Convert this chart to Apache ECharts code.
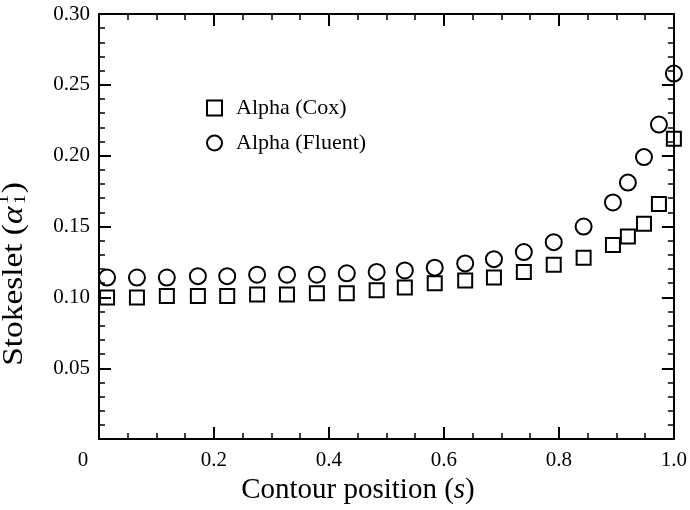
<!DOCTYPE html>
<html>
<head>
<meta charset="utf-8">
<script src="https://cdn.jsdelivr.net/npm/echarts@6/dist/echarts.min.js"></script>
<style>html,body{margin:0;padding:0;background:#fff;}#chart{width:690px;height:510px;}</style>
</head>
<body>
<div id="chart"></div>
<script>
// Contour positions (s)
const xValues = [0.014, 0.066, 0.118, 0.172, 0.223, 0.275, 0.327, 0.379, 0.431, 0.483, 0.532, 0.584, 0.637, 0.687, 0.739, 0.791, 0.843, 0.894, 0.920, 0.948, 0.974, 1.0];
// Alpha (Cox)
const coxValues = [0.100, 0.100, 0.101, 0.101, 0.101, 0.102, 0.102, 0.103, 0.103, 0.105, 0.107, 0.110, 0.112, 0.114, 0.118, 0.123, 0.128, 0.137, 0.143, 0.152, 0.166, 0.212];
// Alpha (Fluent)
const fluentValues = [0.114, 0.114, 0.114, 0.115, 0.115, 0.116, 0.116, 0.116, 0.117, 0.118, 0.119, 0.121, 0.124, 0.127, 0.132, 0.139, 0.150, 0.167, 0.181, 0.199, 0.222, 0.258];
const seriesNames = ['Alpha (Cox)', 'Alpha (Fluent)'];
const xTitleParts = ['Contour position (', 's', ')'];
const yTitleParts = ['Stokeslet (', 'α', '1', '1', ')'];

const FONT = '"Liberation Serif", "Times New Roman", serif';
const chart = echarts.init(document.getElementById('chart'), null, {renderer: 'canvas'});

const pairs = (xs, ys) => xs.map((x, i) => [x, ys[i]]);

// Build the y-axis title (rotated) with stacked super/subscript
function yTitleGraphic() {
  const ctx = document.createElement('canvas').getContext('2d');
  const big = 29, small = 17;
  ctx.font = big + 'px ' + FONT; const w0 = ctx.measureText(yTitleParts[0]).width;
  ctx.font = 'italic ' + big + 'px ' + FONT; const w1 = ctx.measureText(yTitleParts[1]).width;
  ctx.font = small + 'px ' + FONT; const w2 = ctx.measureText(yTitleParts[2]).width;
  ctx.font = big + 'px ' + FONT; const w4 = ctx.measureText(yTitleParts[4]).width;
  const total = w0 + w1 + 2 + w2 + 1 + w4;
  let x = -total / 2;
  const base = {fill: '#000', fontFamily: FONT, verticalAlign: 'middle', align: 'left'};
  const children = [];
  children.push({type: 'text', style: Object.assign({}, base, {text: yTitleParts[0], x: x, y: 0, fontSize: big})});
  x += w0;
  children.push({type: 'text', style: Object.assign({}, base, {text: yTitleParts[1], x: x, y: 0, fontSize: big, fontStyle: 'italic'})});
  x += w1 + 2;
  children.push({type: 'text', style: Object.assign({}, base, {text: yTitleParts[2], x: x, y: -10, fontSize: small})});
  children.push({type: 'text', style: Object.assign({}, base, {text: yTitleParts[3], x: x, y: 7, fontSize: small})});
  x += w2 + 1;
  children.push({type: 'text', style: Object.assign({}, base, {text: yTitleParts[4], x: x, y: 0, fontSize: big})});
  return {type: 'group', x: 14, y: 274, rotation: Math.PI / 2, scaleX: 1.15, scaleY: 1, children: children};
}

const axisCommon = {
  type: 'value',
  axisLine: {show: true, onZero: false, lineStyle: {color: '#000', width: 2}},
  axisTick: {show: true, inside: true, length: 12, lineStyle: {color: '#000', width: 2}},
  minorTick: {show: true, length: 6, lineStyle: {color: '#000', width: 1.5}},
  splitLine: {show: false},
  minorSplitLine: {show: false}
};

const option = {
  backgroundColor: '#fff',
  animation: false,
  grid: {left: 99, right: 16, top: 14, bottom: 63, containLabel: false},
  legend: {
    orient: 'vertical',
    left: 201,
    top: 91,
    itemWidth: 15,
    itemHeight: 15,
    itemGap: 11,
    textStyle: {fontFamily: FONT, fontSize: 22, color: '#000', lineHeight: 24, padding: [0, 0, 0, 9]},
    itemStyle: {color: 'rgba(0,0,0,0)', borderColor: '#000', borderWidth: 2},
    data: [
      {name: seriesNames[0], icon: 'rect'},
      {name: seriesNames[1], icon: 'circle'}
    ]
  },
  xAxis: [
    Object.assign({}, axisCommon, {
      position: 'bottom', min: 0, max: 1, interval: 0.2,
      minorTick: Object.assign({}, axisCommon.minorTick, {splitNumber: 4}),
      axisLabel: {
        show: true, margin: 11, color: '#000', fontFamily: FONT, fontSize: 21,
        formatter: v => v === 0 ? '{z|0}' : v.toFixed(1),
        rich: {z: {fontFamily: FONT, fontSize: 21, color: '#000', padding: [0, 32, 0, 0]}}
      },
      name: '{n|' + xTitleParts[0] + '}{i|' + xTitleParts[1] + '}{n|' + xTitleParts[2] + '}',
      nameLocation: 'middle',
      nameGap: 32,
      nameTextStyle: {
        fontFamily: FONT, fontSize: 29, color: '#000', padding: [0, 57, 0, 0],
        rich: {
          n: {fontFamily: FONT, fontSize: 29, color: '#000'},
          i: {fontFamily: FONT, fontSize: 29, color: '#000', fontStyle: 'italic'}
        }
      }
    }),
    Object.assign({}, axisCommon, {
      position: 'top', min: 0, max: 1, interval: 0.2,
      minorTick: Object.assign({}, axisCommon.minorTick, {splitNumber: 4}),
      axisLabel: {show: false}
    })
  ],
  yAxis: [
    Object.assign({}, axisCommon, {
      position: 'left', min: 0, max: 0.3, interval: 0.05,
      minorTick: Object.assign({}, axisCommon.minorTick, {splitNumber: 5}),
      axisLabel: {
        show: true, margin: 9, color: '#000', fontFamily: FONT, fontSize: 21,
        formatter: v => v === 0 ? '' : v.toFixed(2)
      }
    }),
    Object.assign({}, axisCommon, {
      position: 'right', min: 0, max: 0.3, interval: 0.05,
      minorTick: Object.assign({}, axisCommon.minorTick, {splitNumber: 5}),
      axisLabel: {show: false}
    })
  ],
  graphic: [yTitleGraphic()],
  series: [
    {
      name: seriesNames[0], type: 'scatter', clip: false,
      symbol: 'rect', symbolSize: 14,
      itemStyle: {color: 'rgba(0,0,0,0)', borderColor: '#000', borderWidth: 2, opacity: 1},
      data: pairs(xValues, coxValues)
    },
    {
      name: seriesNames[1], type: 'scatter', clip: false,
      symbol: 'circle', symbolSize: 16,
      itemStyle: {color: 'rgba(0,0,0,0)', borderColor: '#000', borderWidth: 2, opacity: 1},
      data: pairs(xValues, fluentValues)
    }
  ]
};
chart.setOption(option);
</script>
</body>
</html>
